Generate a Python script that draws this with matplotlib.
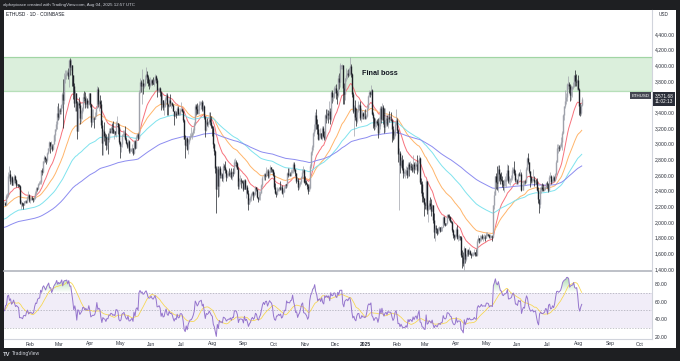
import matplotlib
matplotlib.use('Agg')
import matplotlib.pyplot as plt
import matplotlib.dates as mdates
import matplotlib.transforms as mtransforms
from matplotlib.patches import Rectangle
from matplotlib.path import Path
import numpy as np
import pandas as pd

plt.rcParams['font.family'] = ['Liberation Sans', 'DejaVu Sans']

# ETHUSD daily, Coinbase (one line per month)
start_day = '2024-01-06'
first_open = 2268
close_px = [
    2240, 2222, 2330, 2345, 2585, 2617, 2525, 2575, 2475, 2510, 2587, 2529, 2467, 2490, 2470, 2455, 2240, 2242, 2235, 2217, 2265, 2268, 2258, 2318, 2345, 2283,
    2303, 2308, 2296, 2290, 2300, 2372, 2425, 2420, 2485, 2503, 2505, 2660, 2640, 2775, 2825, 2805, 2785, 2880, 2945, 3015, 2965, 2975, 2925, 2995, 3110, 3180, 3245, 3385, 3340,
    3435, 3420, 3490, 3630, 3555, 3820, 3870, 3885, 3910, 3860, 4065, 3980, 4000, 3880, 3740, 3520, 3645, 3515, 3160, 3515, 3495, 3330, 3385, 3450, 3590, 3585, 3500, 3560, 3505, 3510, 3645,
    3505, 3280, 3310, 3330, 3320, 3350, 3455, 3700, 3500, 3545, 3505, 3240, 3005, 3155, 3100, 3085, 2985, 3065, 3055, 3155, 3150, 3200, 3185, 3140, 3155, 3130, 3260, 3260, 3215, 3015,
    2970, 2990, 3105, 3120, 3140, 3065, 3005, 2975, 3035, 2910, 2910, 2930, 2950, 2880, 3035, 2945, 3090, 3120, 3070, 3665, 3790, 3740, 3780, 3730, 3750, 3830, 3890, 3845, 3770, 3750, 3765,
    3815, 3780, 3765, 3810, 3865, 3810, 3680, 3685, 3705, 3665, 3500, 3560, 3470, 3480, 3565, 3620, 3510, 3485, 3560, 3515, 3520, 3495, 3420, 3355, 3395, 3370, 3450, 3375, 3380, 3435,
    3440, 3420, 3295, 3060, 2985, 3070, 2930, 3020, 3065, 3100, 3100, 3130, 3175, 3245, 3485, 3445, 3390, 3430, 3505, 3515, 3535, 3440, 3480, 3335, 3170, 3275, 3250, 3270, 3320, 3275, 3230,
    3205, 2990, 2905, 2690, 2420, 2680, 2460, 2685, 2600, 2610, 2560, 2720, 2700, 2660, 2570, 2595, 2615, 2610, 2640, 2570, 2630, 2620, 2765, 2765, 2750, 2680, 2460, 2525, 2530, 2525, 2515,
    2425, 2540, 2425, 2450, 2370, 2230, 2275, 2300, 2360, 2385, 2340, 2360, 2440, 2420, 2320, 2290, 2340, 2375, 2465, 2560, 2615, 2580, 2650, 2655, 2580, 2635, 2695, 2675, 2660, 2600,
    2450, 2365, 2350, 2415, 2415, 2440, 2420, 2440, 2370, 2385, 2435, 2475, 2470, 2630, 2605, 2610, 2605, 2645, 2650, 2745, 2670, 2620, 2525, 2535, 2440, 2480, 2505, 2570, 2640, 2665, 2515,
    2510, 2490, 2460, 2400, 2430, 2720, 2890, 2960, 3130, 3180, 3370, 3250, 3190, 3060, 3110, 3130, 3075, 3200, 3100, 3070, 3360, 3325, 3395, 3360, 3420, 3320, 3655, 3590, 3590, 3705,
    3710, 3640, 3620, 3835, 3785, 4000, 4000, 4005, 3710, 3630, 3835, 3880, 3905, 3875, 3960, 3990, 3890, 3630, 3420, 3470, 3340, 3290, 3425, 3490, 3490, 3330, 3330, 3395, 3350, 3355, 3330,
    3355, 3450, 3610, 3655, 3635, 3685, 3380, 3330, 3220, 3265, 3285, 3265, 3140, 3225, 3450, 3310, 3470, 3305, 3215, 3295, 3325, 3245, 3335, 3310, 3320, 3300, 3180, 3075, 3115, 3250, 3300,
    3170, 2870, 2880, 2730, 2785, 2690, 2620, 2630, 2630, 2660, 2600, 2745, 2675, 2720, 2700, 2660, 2745, 2670, 2720, 2740, 2660, 2760, 2820, 2510, 2490, 2330, 2310, 2230,
    2220, 2520, 2150, 2170, 2240, 2200, 2140, 2210, 2020, 1865, 1920, 1905, 1860, 1910, 1930, 1890, 1930, 1930, 2060, 1985, 1965, 1985, 2085, 2080, 2060, 2010, 2000, 1895, 1830, 1805, 1820,
    1905, 1795, 1815, 1815, 1805, 1580, 1555, 1470, 1670, 1520, 1570, 1640, 1595, 1625, 1585, 1580, 1585, 1590, 1615, 1585, 1580, 1755, 1795, 1770, 1785, 1820, 1795, 1800, 1800, 1795,
    1840, 1840, 1835, 1805, 1815, 1815, 1810, 2210, 2345, 2580, 2515, 2500, 2680, 2610, 2545, 2540, 2480, 2470, 2525, 2525, 2550, 2660, 2525, 2530, 2545, 2565, 2660, 2680, 2630, 2530, 2530,
    2510, 2610, 2595, 2610, 2410, 2480, 2525, 2510, 2680, 2810, 2770, 2645, 2575, 2525, 2535, 2550, 2510, 2525, 2520, 2410, 2290, 2225, 2410, 2445, 2420, 2415, 2425, 2440, 2500, 2490,
    2410, 2570, 2590, 2510, 2520, 2570, 2540, 2610, 2770, 2950, 2960, 2945, 2975, 3015, 3140, 3370, 3475, 3545, 3590, 3755, 3760, 3740, 3625, 3700, 3725, 3740, 3870, 3800, 3790, 3815, 3700,
    3480, 3395, 3495, 3571.68,
]
high_px = [
    2275, 2255, 2350, 2370, 2640, 2715, 2660, 2590, 2580, 2550, 2610, 2595, 2545, 2500, 2480, 2480, 2465, 2275, 2260, 2240, 2272, 2280, 2285, 2325, 2390, 2355,
    2310, 2330, 2325, 2310, 2330, 2390, 2440, 2450, 2495, 2520, 2540, 2665, 2685, 2780, 2860, 2840, 2810, 2890, 2950, 3030, 3020, 3030, 2990, 3000, 3120, 3190, 3285, 3480, 3520,
    3450, 3460, 3500, 3660, 3820, 3900, 3940, 3940, 3935, 3960, 4085, 4090, 4085, 4000, 3880, 3780, 3680, 3610, 3540, 3540, 3590, 3530, 3430, 3465, 3640, 3675, 3665, 3610, 3580, 3560, 3650,
    3650, 3510, 3440, 3440, 3345, 3400, 3460, 3730, 3720, 3560, 3620, 3555, 3300, 3180, 3280, 3130, 3125, 3095, 3130, 3200, 3195, 3230, 3265, 3290, 3175, 3165, 3285, 3355, 3250, 3250,
    3030, 3000, 3120, 3170, 3170, 3220, 3080, 3020, 3060, 3050, 2940, 2950, 2990, 2950, 3040, 3040, 3110, 3140, 3130, 3690, 3840, 3810, 3950, 3820, 3780, 3880, 3975, 3930, 3880, 3830, 3850,
    3830, 3830, 3850, 3830, 3890, 3880, 3840, 3710, 3720, 3720, 3670, 3650, 3560, 3530, 3590, 3650, 3650, 3500, 3590, 3630, 3530, 3530, 3500, 3420, 3430, 3420, 3480, 3480, 3400, 3450,
    3525, 3460, 3430, 3320, 3110, 3090, 3080, 3060, 3100, 3140, 3215, 3150, 3200, 3270, 3500, 3500, 3520, 3490, 3540, 3540, 3550, 3560, 3540, 3490, 3350, 3300, 3330, 3290, 3400, 3400, 3350,
    3240, 3220, 3010, 2920, 2720, 2720, 2720, 2710, 2720, 2640, 2620, 2750, 2740, 2780, 2680, 2630, 2650, 2690, 2660, 2690, 2650, 2690, 2800, 2820, 2790, 2770, 2700, 2560, 2600, 2560, 2540,
    2530, 2550, 2550, 2470, 2470, 2410, 2310, 2330, 2370, 2400, 2390, 2380, 2460, 2450, 2420, 2320, 2390, 2390, 2490, 2580, 2630, 2630, 2700, 2680, 2670, 2660, 2730, 2700, 2680, 2670,
    2640, 2500, 2400, 2440, 2430, 2450, 2520, 2470, 2470, 2420, 2460, 2490, 2490, 2640, 2690, 2690, 2640, 2670, 2670, 2760, 2770, 2680, 2630, 2570, 2560, 2500, 2520, 2580, 2680, 2720, 2670,
    2590, 2530, 2500, 2490, 2480, 2740, 2900, 2980, 3150, 3250, 3400, 3440, 3320, 3250, 3130, 3200, 3130, 3230, 3220, 3160, 3380, 3440, 3440, 3430, 3540, 3460, 3680, 3680, 3650, 3730,
    3750, 3760, 3690, 3880, 3900, 4030, 4010, 4020, 4010, 3780, 3840, 3970, 3940, 3950, 3970, 4100, 4020, 3900, 3660, 3490, 3560, 3450, 3440, 3550, 3510, 3540, 3450, 3430, 3400, 3430, 3440,
    3380, 3500, 3620, 3680, 3670, 3750, 3700, 3400, 3340, 3325, 3300, 3310, 3330, 3340, 3480, 3480, 3520, 3490, 3460, 3460, 3370, 3360, 3380, 3420, 3360, 3400, 3320, 3230, 3160, 3280, 3440,
    3330, 3180, 2950, 2900, 2830, 2850, 2800, 2650, 2680, 2720, 2700, 2760, 2760, 2780, 2750, 2740, 2850, 2770, 2780, 2770, 2850, 2790, 2850, 2830, 2560, 2520, 2380, 2300,
    2260, 2550, 2520, 2220, 2280, 2320, 2290, 2230, 2220, 2110, 1960, 1960, 1920, 1940, 1950, 1940, 1950, 1940, 2070, 2070, 1990, 1990, 2100, 2100, 2100, 2070, 2030, 2010, 1910, 1840, 1850,
    1930, 1960, 1830, 1850, 1820, 1820, 1640, 1610, 1690, 1670, 1590, 1650, 1660, 1680, 1640, 1600, 1610, 1610, 1650, 1620, 1660, 1780, 1830, 1800, 1830, 1830, 1840, 1830, 1840, 1830,
    1870, 1870, 1850, 1840, 1840, 1830, 1830, 2220, 2390, 2590, 2620, 2720, 2730, 2730, 2620, 2640, 2590, 2530, 2550, 2580, 2620, 2740, 2730, 2580, 2560, 2600, 2700, 2700, 2780, 2660, 2560,
    2550, 2620, 2640, 2680, 2640, 2530, 2540, 2540, 2700, 2830, 2880, 2770, 2650, 2590, 2560, 2680, 2590, 2540, 2550, 2560, 2440, 2290, 2440, 2480, 2500, 2490, 2460, 2460, 2510, 2520,
    2500, 2600, 2640, 2600, 2550, 2600, 2590, 2620, 2790, 2990, 3000, 2980, 3000, 3080, 3160, 3380, 3480, 3680, 3640, 3770, 3860, 3790, 3760, 3750, 3740, 3790, 3880, 3940, 3890, 3830, 3870,
    3710, 3520, 3500, 3590,
]
low_px = [
    2210, 2210, 2210, 2300, 2320, 2560, 2480, 2500, 2470, 2470, 2500, 2500, 2440, 2460, 2450, 2440, 2230, 2165, 2200, 2170, 2210, 2245, 2235, 2245, 2310, 2260,
    2240, 2280, 2285, 2255, 2265, 2290, 2350, 2400, 2415, 2470, 2490, 2485, 2600, 2630, 2750, 2760, 2740, 2760, 2870, 2900, 2880, 2930, 2900, 2920, 2990, 3030, 3165, 3180, 3300,
    3320, 3380, 3380, 3460, 3200, 3500, 3770, 3830, 3870, 3830, 3720, 3880, 3935, 3740, 3570, 3470, 3420, 3420, 3060, 3160, 3450, 3255, 3280, 3320, 3415, 3550, 3450, 3470, 3460, 3460, 3490,
    3470, 3210, 3240, 3270, 3200, 3310, 3360, 3450, 3470, 3420, 3460, 3200, 2860, 2850, 3030, 2980, 2920, 2925, 2870, 3020, 3130, 3140, 3140, 3130, 3060, 3110, 3080, 3250, 3120, 2990,
    2810, 2890, 2960, 3100, 3090, 3050, 2990, 2940, 2950, 2880, 2880, 2900, 2880, 2860, 2865, 2930, 2940, 3090, 3050, 3060, 3640, 3660, 3500, 3630, 3710, 3735, 3830, 3770, 3740, 3700, 3720,
    3750, 3750, 3760, 3730, 3790, 3770, 3600, 3660, 3660, 3610, 3430, 3450, 3430, 3370, 3470, 3560, 3370, 3360, 3470, 3480, 3450, 3480, 3410, 3240, 3350, 3330, 3360, 3360, 3360, 3360,
    3410, 3400, 3280, 3060, 2810, 2970, 2920, 2870, 3000, 3050, 3080, 3060, 3110, 3140, 3240, 3360, 3380, 3380, 3380, 3490, 3440, 3420, 3410, 3310, 3090, 3160, 3220, 3210, 3250, 3240, 3200,
    3100, 2950, 2860, 2620, 2110, 2440, 2320, 2330, 2560, 2560, 2520, 2510, 2660, 2630, 2520, 2560, 2590, 2580, 2570, 2550, 2540, 2580, 2610, 2720, 2700, 2670, 2420, 2420, 2490, 2430, 2500,
    2400, 2420, 2420, 2310, 2360, 2150, 2230, 2250, 2270, 2330, 2280, 2320, 2340, 2400, 2300, 2250, 2280, 2280, 2380, 2440, 2540, 2530, 2570, 2600, 2560, 2560, 2620, 2640, 2640, 2590,
    2420, 2350, 2320, 2340, 2400, 2400, 2410, 2410, 2360, 2320, 2380, 2430, 2430, 2450, 2570, 2580, 2590, 2590, 2630, 2620, 2650, 2590, 2500, 2520, 2410, 2420, 2460, 2480, 2560, 2620, 2500,
    2470, 2480, 2420, 2360, 2390, 2420, 2690, 2860, 2920, 3100, 3160, 3180, 3120, 3050, 3040, 3090, 3060, 3050, 3080, 3050, 3050, 3260, 3300, 3260, 3320, 3250, 3290, 3520, 3550, 3580,
    3640, 3570, 3500, 3600, 3700, 3720, 3950, 3950, 3500, 3500, 3560, 3800, 3830, 3850, 3860, 3870, 3850, 3600, 3390, 3100, 3300, 3230, 3260, 3400, 3430, 3300, 3280, 3320, 3320, 3310, 3320,
    3320, 3340, 3440, 3590, 3600, 3620, 3370, 3200, 3170, 3180, 3210, 3240, 3070, 3140, 3190, 3260, 3300, 3250, 3130, 3150, 3230, 3230, 3200, 3280, 3290, 3290, 3020, 3050, 3060, 3100, 3240,
    3130, 2760, 2150, 2620, 2700, 2660, 2560, 2580, 2560, 2600, 2560, 2570, 2580, 2660, 2660, 2640, 2640, 2630, 2660, 2710, 2610, 2640, 2750, 2480, 2370, 2260, 2260, 2080,
    2160, 2170, 2100, 2000, 2160, 2170, 2080, 2180, 1990, 1800, 1760, 1860, 1830, 1850, 1900, 1870, 1880, 1890, 1930, 1960, 1950, 1960, 1970, 2050, 2030, 2000, 1980, 1870, 1800, 1770, 1780,
    1820, 1780, 1760, 1770, 1770, 1550, 1410, 1440, 1385, 1480, 1500, 1560, 1570, 1590, 1580, 1540, 1570, 1570, 1580, 1560, 1560, 1570, 1740, 1730, 1740, 1760, 1780, 1750, 1780, 1750,
    1790, 1820, 1820, 1790, 1780, 1790, 1760, 1800, 2160, 2340, 2420, 2410, 2380, 2520, 2490, 2520, 2450, 2410, 2380, 2460, 2450, 2540, 2500, 2490, 2470, 2510, 2540, 2630, 2600, 2510, 2480,
    2490, 2480, 2580, 2590, 2390, 2410, 2470, 2480, 2500, 2660, 2740, 2630, 2440, 2500, 2500, 2530, 2460, 2490, 2480, 2390, 2240, 2110, 2180, 2370, 2390, 2400, 2390, 2410, 2430, 2430,
    2380, 2400, 2560, 2480, 2500, 2510, 2520, 2520, 2600, 2760, 2880, 2900, 2920, 2960, 2920, 3120, 3300, 3450, 3500, 3540, 3700, 3650, 3540, 3560, 3590, 3700, 3720, 3740, 3730, 3690, 3680,
    3360, 3355, 3360, 3480,
]

# moving averages (EMA) and their values at the first candle
ema_periods = [20, 50, 100, 200]
ema_seeds = [2280, 2190, 2030, 1925]
ema_colors = ['#f7727c', '#ffb56b', '#7fe3ee', '#8c8cf0']

# RSI(14) start state
rsi_gain0, rsi_loss0 = 36.0, 33.0

zone_lo, zone_hi = 3675, 4100
price_ticks = list(range(1400, 4600, 200))
rsi_ticks = [20, 40, 60, 80]

W, H = 680, 361
fig = plt.figure(figsize=(W / 100, H / 100), dpi=100, facecolor='#1e1f22')


def fx(px):
    return px / W


def fy(py):
    return 1 - py / H


# white chart body
fig.patches.append(Rectangle((fx(4), fy(348)), fx(672), 338 / H, transform=fig.transFigure,
                             facecolor='white', edgecolor='none', zorder=-5))

ax = fig.add_axes([fx(4), fy(271), fx(648), 261 / H])
ax2 = fig.add_axes([fx(4), fy(339), fx(648), 68 / H], sharex=ax)
ax.set_zorder(2)
ax2.set_zorder(1)

n = min(len(close_px), len(high_px), len(low_px))
close = np.array(close_px[:n], float)
high = np.array(high_px[:n], float)
low = np.array(low_px[:n], float)
opn = np.r_[first_open, close[:-1]]
high = np.maximum(high, np.maximum(opn, close))
low = np.minimum(low, np.minimum(opn, close))
dates = pd.date_range(start_day, periods=n, freq='D')
x = mdates.date2num(dates)

# candles
up = close >= opn
cols = np.where(up, '#9fa2ab', '#1c1f26')
blo = np.minimum(opn, close)
bhi = np.maximum(opn, close)
mid = (blo + bhi) / 2
blo = np.minimum(blo, mid - 6)
bhi = np.maximum(bhi, mid + 6)
ax.vlines(x, low, high, colors=cols, linewidth=0.5, zorder=3)
ax.vlines(x, blo, bhi, colors=cols, linewidth=1.0, zorder=3)


def ema(vals, period, seed):
    a = 2 / (period + 1)
    out = np.empty(len(vals))
    prev = seed
    for i, v in enumerate(vals):
        prev = prev + a * (v - prev)
        out[i] = prev
    return out


for p, s, c in zip(ema_periods, ema_seeds, ema_colors):
    ax.plot(x, ema(close, p, s), color=c, linewidth=0.7, zorder=2)

# resistance zone
ax.axhspan(zone_lo, zone_hi, facecolor='#4caf50', alpha=0.2, edgecolor='none', zorder=1)
ax.axhline(zone_lo, color='#4caf50', alpha=0.4, linewidth=0.9, zorder=1)
ax.axhline(zone_hi, color='#4caf50', alpha=0.4, linewidth=0.9, zorder=1)
ax.text(mdates.date2num(pd.Timestamp('2025-01-15')), 3890, 'Final boss', fontsize=5.2,
        fontweight='bold', color='#131722', ha='center', va='center', zorder=5)

ax.set_ylim(1373, 4706)


# RSI
def rsi_wilder(vals, prev_close, g, l, period=14):
    diff = np.diff(np.r_[prev_close, vals])
    out = np.empty(len(vals))
    for i, d in enumerate(diff):
        g = (g * (period - 1) + max(d, 0)) / period
        l = (l * (period - 1) + max(-d, 0)) / period
        out[i] = 100 - 100 / (1 + g / l)
    return out


rsi = rsi_wilder(close, first_open, rsi_gain0, rsi_loss0)
rsi_ma = pd.Series(rsi).rolling(14, min_periods=1).mean().values

ax2.axhspan(30, 70, facecolor='#7e57c2', alpha=0.1, edgecolor='none')
for lvl in (70, 50, 30):
    ax2.axhline(lvl, color='#787b86', alpha=0.6, linewidth=0.5, linestyle=(0, (2, 2)))


def gradient_fill(axis, xs, ys, base, far, rgb, above):
    mask = ys > base if above else ys < base
    coll = axis.fill_between(xs, base, ys, where=mask, interpolate=True, color='none', linewidth=0)
    paths = coll.get_paths()
    if not paths:
        return
    grad = np.linspace(0, 1, 64)[:, None]
    if not above:
        grad = grad[::-1]
    img = np.zeros((64, 1, 4))
    img[..., 0], img[..., 1], img[..., 2] = rgb
    img[..., 3] = grad * 0.75
    lo, hi = (base, far) if above else (far, base)
    im = axis.imshow(img, aspect='auto', origin='lower', extent=[xs[0], xs[-1], lo, hi], zorder=2)
    im.set_clip_path(Path.make_compound_path(*paths), transform=axis.transData)


gradient_fill(ax2, x, rsi, 70, 100, (0.30, 0.69, 0.31), True)
gradient_fill(ax2, x, rsi, 30, 0, (0.95, 0.21, 0.27), False)
ax2.plot(x, rsi_ma, color='#f7d64a', linewidth=0.55, zorder=3)
ax2.plot(x, rsi, color='#9575cd', linewidth=0.7, zorder=4)
ax2.set_ylim(17.7, 94.7)
ax.set_xlim(mdates.date2num(pd.Timestamp('2024-01-06 12:00')), mdates.date2num(pd.Timestamp('2025-10-13')))

# axes styling
tick_col = '#2a2e39'
for a in (ax, ax2):
    a.set_facecolor('none')
    for s in a.spines.values():
        s.set_visible(False)
    a.spines['right'].set_visible(True)
    a.spines['right'].set_color('#d1d4dc')
    a.spines['right'].set_linewidth(0.8)
    a.yaxis.tick_right()
    a.tick_params(axis='y', length=0, pad=2, labelsize=3.6, labelcolor=tick_col)
ax2.spines['top'].set_visible(True)
ax2.spines['top'].set_color('#b2b5be')
ax2.spines['top'].set_linewidth(1.2)
ax2.spines['bottom'].set_visible(True)
ax2.spines['bottom'].set_color('#d1d4dc')
ax2.spines['bottom'].set_linewidth(0.8)

ax.set_yticks(price_ticks)
ax.set_yticklabels([f'{v:,.2f}' for v in price_ticks])
ax2.set_yticks(rsi_ticks)
ax2.set_yticklabels([f'{v:.2f}' for v in rsi_ticks])

months = pd.date_range('2024-02-01', '2025-10-01', freq='MS')
ax2.set_xticks(mdates.date2num(months))
ax2.set_xticklabels(['2025' if m.month == 1 else m.strftime('%b') for m in months])
for lab, m in zip(ax2.get_xticklabels(), months):
    if m.month == 1:
        lab.set_fontweight('bold')
ax2.tick_params(axis='x', length=0, pad=1.8, labelsize=3.6, labelcolor=tick_col)
ax.tick_params(axis='x', length=0, labelbottom=False)

# last price tag
blend = mtransforms.blended_transform_factory(ax.transAxes, ax.transData)
ax.text(1.004, close[-1], f'{close[-1]:,.2f}\n11:02:13', transform=blend, ha='left', va='center',
        fontsize=3.4, color='white', linespacing=1.1, zorder=20, clip_on=False,
        bbox=dict(boxstyle='square,pad=0.35', facecolor='#2a2e39', edgecolor='none'))
ax.text(0.996, close[-1] + 40, 'ETHUSD', transform=blend, ha='right', va='center',
        fontsize=3.2, color='white', zorder=20, clip_on=False,
        bbox=dict(boxstyle='square,pad=0.3', facecolor='#434651', edgecolor='none'))

# header / footer texts
fig.text(fx(3), fy(5), 'alphapixaxe created with TradingView.com, Aug 04, 2025 12:57 UTC',
         fontsize=3.2, color='#d1d4dc', ha='left', va='center')
fig.text(fx(6), fy(15), 'ETHUSD · 1D · COINBASE', fontsize=3.4, color='#131722', ha='left', va='center')
fig.text(fx(659), fy(15), 'USD', fontsize=3.4, color=tick_col, ha='left', va='center')
fig.text(fx(3), fy(354), 'TV', fontsize=4.2, fontweight='bold', color='#d1d4dc', ha='left', va='center')
fig.text(fx(12), fy(354), 'TradingView', fontsize=3.6, color='#d1d4dc', ha='left', va='center')

fig.savefig('out.png', dpi=100, facecolor=fig.get_facecolor())
